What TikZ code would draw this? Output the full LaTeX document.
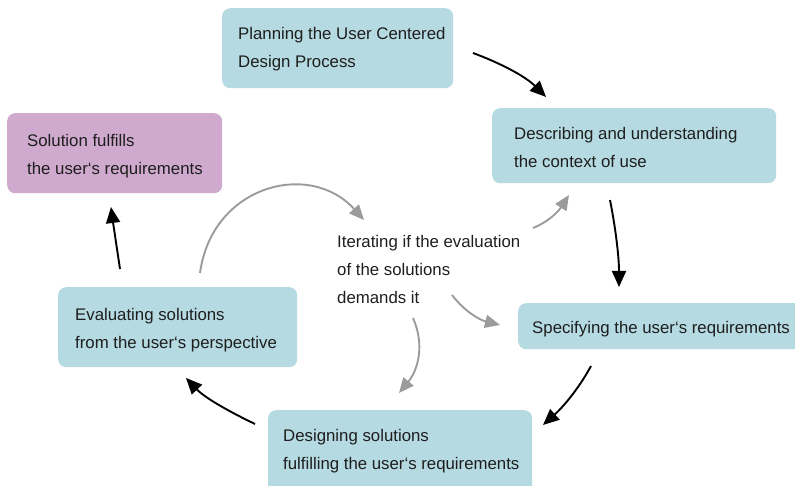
\documentclass[tikz,border=0pt]{standalone}
\usepackage{fontspec}
\setmainfont{Liberation Sans}
\usetikzlibrary{arrows.meta}
\definecolor{boxblue}{RGB}{181,218,225}
\definecolor{boxpurple}{RGB}{208,170,206}
\definecolor{txtcol}{RGB}{30,30,30}
\definecolor{itergray}{RGB}{155,155,155}
\begin{document}
\begin{tikzpicture}[x=1pt,y=-1pt,
  every node/.style={font=\fontsize{16.8}{28}\selectfont, text=txtcol},
  stagebox/.style={fill=boxblue, rounded corners=8pt, anchor=north west, inner sep=0pt},
  endbox/.style={stagebox, fill=boxpurple},
  lbl/.style={anchor=west, align=left, inner sep=0pt},
  flow/.style={draw=black, line width=1.9pt, -{Triangle[length=16pt,width=14pt]}},
  iter/.style={draw=itergray, line width=1.9pt, -{Triangle[length=15pt,width=13pt]}}]
\useasboundingbox (0,0) rectangle (795,486);

\node[stagebox, minimum width=231pt, minimum height=80pt] (plan) at (222,8) {};
\node[lbl] (plantxt) at ([xshift=16pt,yshift=-1pt]plan.west) {Planning the User Centered\\Design Process};

\node[endbox, minimum width=215pt, minimum height=80pt] (sol) at (7,113) {};
\node[lbl] (soltxt) at ([xshift=20pt,yshift=-2.5pt]sol.west) {Solution fulfills\\the user‘s requirements};

\node[stagebox, minimum width=284pt, minimum height=75pt] (desc) at (492,108) {};
\node[lbl] (desctxt) at ([xshift=22pt,yshift=-2pt]desc.west) {Describing and understanding\\the context of use};

\node[stagebox, minimum width=290pt, minimum height=46pt] (spec) at (518,303) {};
\node[lbl] (spectxt) at ([xshift=14pt,yshift=-3pt]spec.west) {Specifying the user‘s requirements};

\node[stagebox, minimum width=264pt, minimum height=86pt] (des) at (268,410) {};
\node[lbl] (destxt) at ([xshift=15pt,yshift=2pt]des.west) {Designing solutions\\fulfilling the user‘s requirements};

\node[stagebox, minimum width=239pt, minimum height=80pt] (eval) at (58,287) {};
\node[lbl] (evaltxt) at ([xshift=17pt,yshift=-3pt]eval.west) {Evaluating solutions\\from the user‘s perspective};

\node[lbl] (iterate) at (337,269) {Iterating if the evaluation\\of the solutions\\demands it};

\coordinate (a1s) at (473,53);  \coordinate (a1e) at (546,97);
\coordinate (a2s) at (610,200); \coordinate (a2e) at (619,287);
\coordinate (a3s) at (591,366); \coordinate (a3e) at (543,425);
\coordinate (a4s) at (255,424); \coordinate (a4e) at (186,378);
\coordinate (a5s) at (120,269); \coordinate (a5e) at (111,207);

\draw[flow] (a1s) .. controls (500,63) and (525,76) .. (a1e);
\draw[flow] (a2s) .. controls (615,225) and (619,255) .. (a2e);
\draw[flow] (a3s) .. controls (578,390) and (562,408) .. (a3e);
\draw[flow] (a4s) .. controls (230,412) and (205,398) .. (a4e);
\draw[flow] (a5s) .. controls (116,245) .. (a5e);

\coordinate (g1s) at (200,273); \coordinate (g1e) at (364,220);
\coordinate (g2s) at (533,228); \coordinate (g2e) at (569,195);
\coordinate (g3s) at (452,295); \coordinate (g3e) at (500,325);
\coordinate (g4s) at (413,318); \coordinate (g4e) at (399,393);

\draw[iter] (g1s) .. controls (212,185) and (310,160) .. (g1e);
\draw[iter] (g2s) .. controls (548,222) and (558,212) .. (g2e);
\draw[iter] (g3s) .. controls (465,312) and (480,320) .. (g3e);
\draw[iter] (g4s) .. controls (425,345) and (418,370) .. (g4e);
\end{tikzpicture}
\end{document}
